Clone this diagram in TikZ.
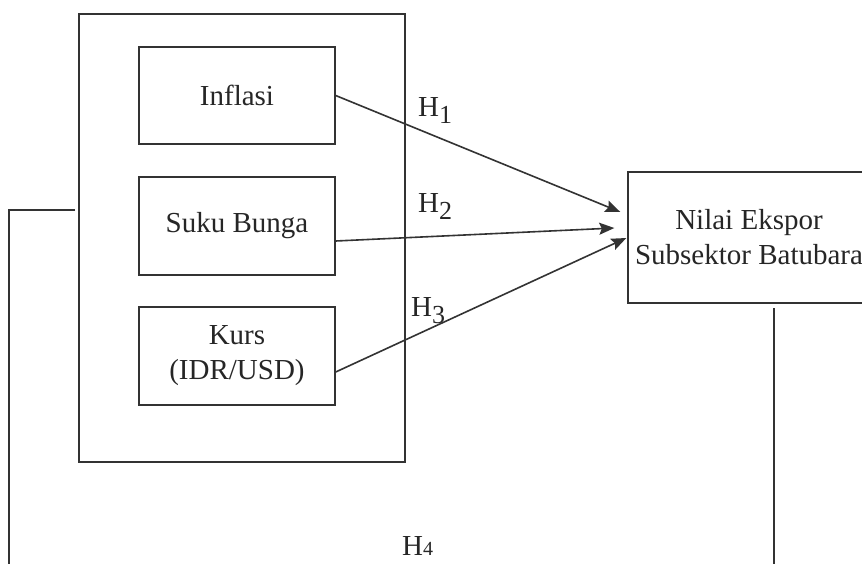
\documentclass[tikz,border=0pt]{standalone}
\usepackage{fontspec}
\setmainfont{Liberation Serif}
\usetikzlibrary{arrows.meta,calc}
\definecolor{ln}{HTML}{333333}
\definecolor{tx}{HTML}{262626}
\begin{document}
\begin{tikzpicture}[x=1pt,y=-1pt,
  box/.style={draw=ln,line width=1.4pt,minimum width=196pt,minimum height=97pt,inner sep=0pt,align=center,text=tx,font=\fontsize{29}{35}\selectfont},
  arr/.style={draw=ln,line width=1.6pt,-{Stealth[length=15pt,width=12pt,inset=2.5pt]}},
  conn/.style={draw=ln,line width=1.4pt},
  hlab/.style={anchor=base west,inner sep=0pt,text=tx,font=\fontsize{29}{35}\selectfont}]
\fill[white] (0,0) rectangle (862,563);
\useasboundingbox (0,0) rectangle (862,563);
\node[box,minimum width=326pt,minimum height=448pt] (outer) at (242,238) {};
\node[box] (inf) at (237,95.5) {Inflasi};
\node[box,minimum height=98pt] (suku) at (237,226) {Suku Bunga};
\node[box,minimum height=98pt] (kurs) at (237,356) {Kurs\\(IDR/USD)};
\node[box,minimum width=242pt,minimum height=131pt] (nilai) at (749,237.5) {Nilai Ekspor\\Subsektor Batubara};
\coordinate (t1) at ($(nilai.west)+(-7,-25.5)$);
\coordinate (t2) at ($(nilai.west)+(-13,-9.5)$);
\coordinate (t3) at ($(nilai.west)+(-1,0.5)$);
\coordinate (s2) at ($(suku.east)+(0,15)$);
\coordinate (s3) at ($(kurs.east)+(0,16)$);
\draw[arr] (inf.east) -- (t1);
\draw[arr] (s2) -- (t2);
\draw[arr] (s3) -- (t3);
\coordinate (l1) at (75,210);
\coordinate (l2) at (9,210);
\coordinate (l3) at (9,570);
\draw[conn] (l1) -- (l2) -- (l3);
\coordinate (r1) at (774,308);
\coordinate (r2) at (774,570);
\draw[conn] (r1) -- (r2);
\node[hlab] (h1) at (418,116) {H\raisebox{-7pt}{\fontsize{26}{26}\selectfont 1}};
\node[hlab] (h2) at (418,212) {H\raisebox{-7pt}{\fontsize{26}{26}\selectfont 2}};
\node[hlab] (h3) at (411,316) {H\raisebox{-7pt}{\fontsize{26}{26}\selectfont 3}};
\node[hlab] (h4) at (402,555) {H{\fontsize{20}{20}\selectfont 4}};
\end{tikzpicture}
\end{document}
